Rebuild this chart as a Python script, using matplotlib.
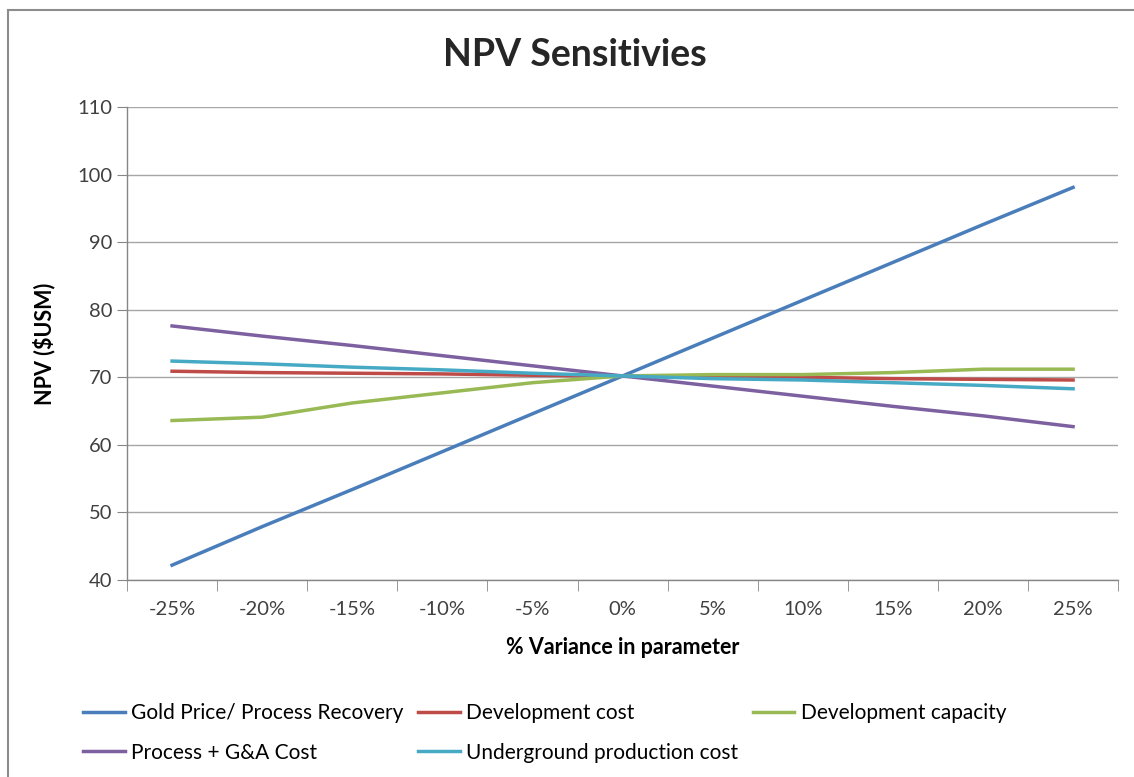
import matplotlib
matplotlib.use("Agg")
import matplotlib.pyplot as plt
from matplotlib.patches import Rectangle

# category labels on the x axis
variance = ["-25%", "-20%", "-15%", "-10%", "-5%", "0%", "5%", "10%", "15%", "20%", "25%"]

# NPV ($USM) for each sensitivity
gold_price = [42.2, 47.9, 53.4, 59.0, 64.6, 70.2, 75.8, 81.4, 87.0, 92.6, 98.1]
dev_cost = [70.9, 70.7, 70.6, 70.5, 70.3, 70.2, 70.1, 70.0, 69.8, 69.7, 69.6]
dev_capacity = [63.6, 64.1, 66.2, 67.7, 69.2, 70.2, 70.4, 70.4, 70.7, 71.2, 71.2]
process_ga = [77.6, 76.1, 74.7, 73.2, 71.7, 70.2, 68.7, 67.2, 65.7, 64.3, 62.7]
underground = [72.4, 72.0, 71.5, 71.1, 70.6, 70.2, 69.8, 69.6, 69.2, 68.8, 68.3]

plt.rcParams["font.family"] = ["Lato", "DejaVu Sans"]

fig = plt.figure(figsize=(11.34, 7.77), dpi=100)
ax = fig.add_axes([0.112, 0.2535, 0.874, 0.6088])

x = list(range(len(variance)))
lw = 2.5
l1, = ax.plot(x, gold_price, color="#4A7EBB", lw=lw, label="Gold Price/ Process Recovery")
l2, = ax.plot(x, dev_cost, color="#BE4B48", lw=lw, label="Development cost")
l3, = ax.plot(x, dev_capacity, color="#98B954", lw=lw, label="Development capacity")
l4, = ax.plot(x, process_ga, color="#7D60A0", lw=lw, label="Process + G&A Cost")
l5, = ax.plot(x, underground, color="#46AAC5", lw=lw, label="Underground production cost")

ax.set_xlim(-0.5, len(variance) - 0.5)
ax.set_ylim(40, 110)
ax.set_yticks(range(40, 111, 10))
ax.tick_params(axis="y", labelsize=14.5, colors="#404040", length=7, color="#868686")
ax.grid(axis="y", color="#A6A6A6", lw=1)
ax.set_axisbelow(True)

# labels at category centres, tick marks at category boundaries
ax.set_xticks(x)
ax.set_xticklabels(variance)
ax.set_xticks([i - 0.5 for i in range(len(variance) + 1)], minor=True)
ax.tick_params(axis="x", which="major", length=0, pad=15, labelsize=14.5, colors="#404040")
ax.tick_params(axis="x", which="minor", length=8, color="#868686")

for s in ["top", "right"]:
    ax.spines[s].set_visible(False)
for s in ["left", "bottom"]:
    ax.spines[s].set_color("#868686")
    ax.spines[s].set_linewidth(1)

ax.set_xlabel("% Variance in parameter", fontsize=15.5, fontweight="bold", labelpad=14)
ax.set_ylabel("NPV ($USM)", fontsize=15.5, fontweight="bold", labelpad=16)
fig.text(0.507, 0.929, "NPV Sensitivies", ha="center", va="center",
         fontsize=27, fontweight="bold", color="#262626")

# legend: row-major order across three columns
fig.legend([l1, l4, l2, l5, l3],
           [l1.get_label(), l4.get_label(), l2.get_label(), l5.get_label(), l3.get_label()],
           ncol=3, loc="upper left", bbox_to_anchor=(0.066, 0.106), frameon=False,
           fontsize=15, handlelength=2.0, handletextpad=0.3, columnspacing=0.7,
           labelspacing=0.95, borderaxespad=0)

# outer chart border
fig.patches.append(Rectangle((8 / 1134, -0.01), 1.0, 1 - 10 / 777 + 0.01,
                             transform=fig.transFigure, fill=False,
                             edgecolor="#8C8C8C", lw=1.5))

fig.savefig("out.png", dpi=100)
